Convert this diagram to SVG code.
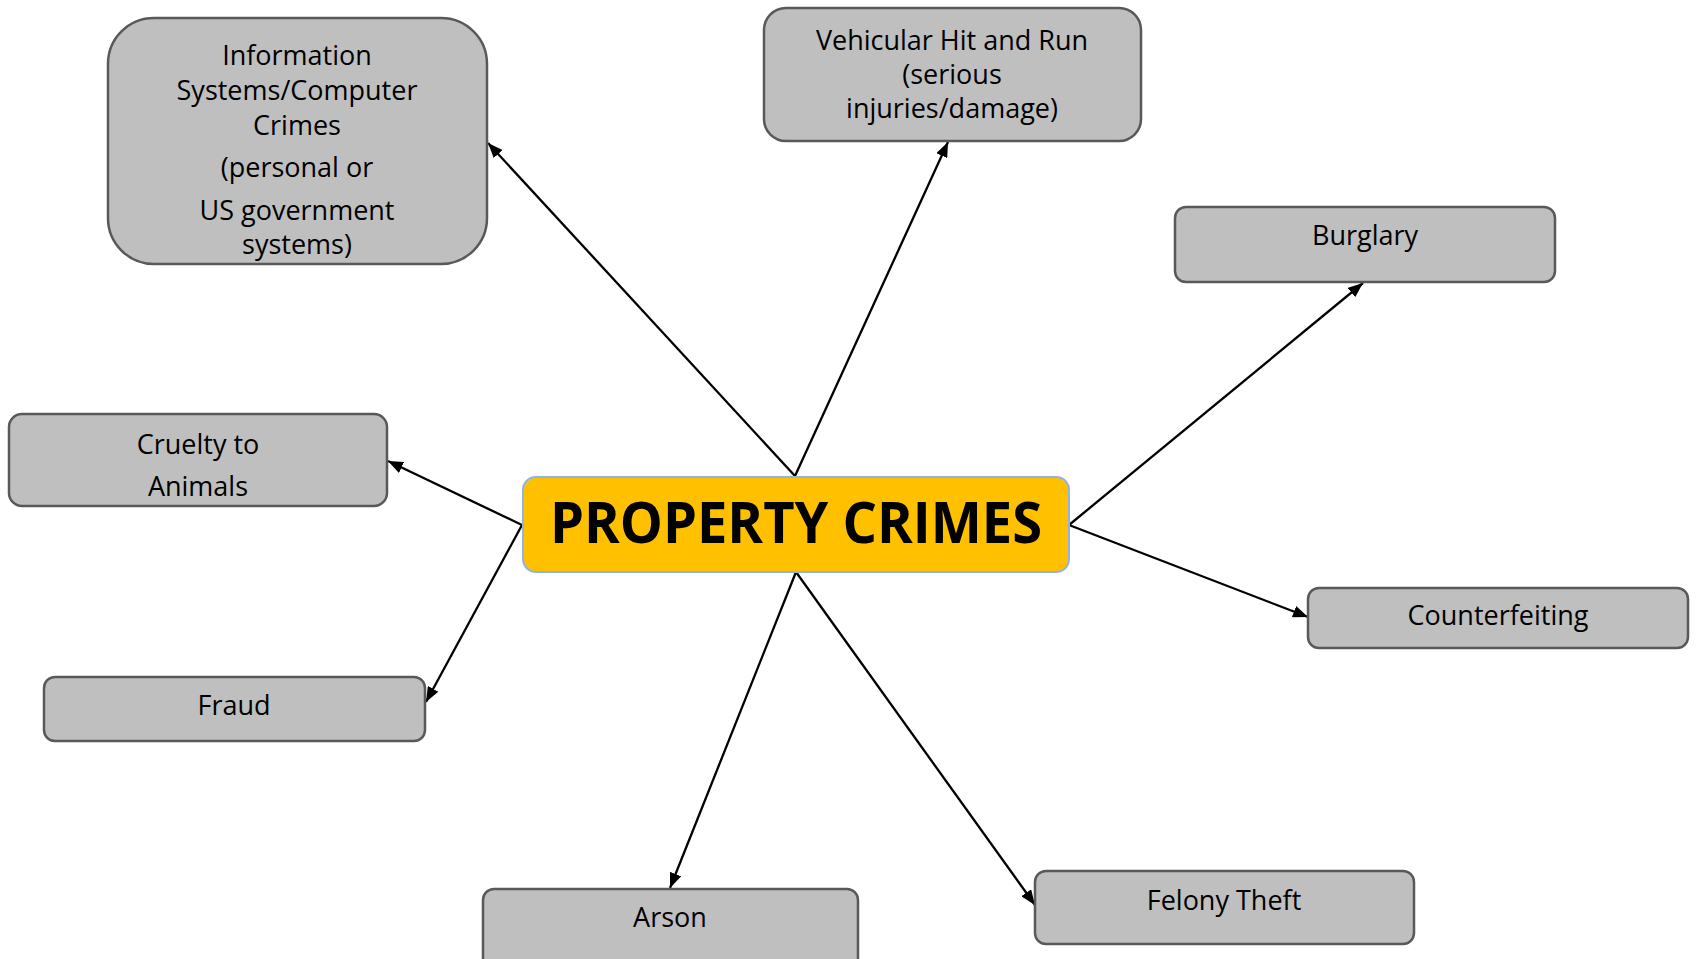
<svg xmlns="http://www.w3.org/2000/svg" width="1697" height="959" viewBox="0 0 1697 959">
<defs>
<marker id="arr" markerUnits="userSpaceOnUse" markerWidth="16" markerHeight="12" refX="15" refY="6" orient="auto">
<path d="M0,0 L15,6 L0,12 z" fill="#000"/>
</marker>
<style>
.box{fill:#BFBFBF;stroke:#595959;stroke-width:2.5}
.lbl{font-family:"Open Sans","Liberation Sans",sans-serif;font-size:27px;fill:#000;text-anchor:middle}
.con{stroke:#000;stroke-width:2.3;fill:none;marker-end:url(#arr)}
</style>
</defs>
<rect width="1697" height="959" fill="#fff"/>
<g id="connectors">
<line class="con" x1="795" y1="476" x2="488" y2="143"/>
<line class="con" x1="795" y1="476" x2="948" y2="142"/>
<line class="con" x1="1069" y1="525" x2="1363" y2="283"/>
<line class="con" x1="1069" y1="525" x2="1308" y2="617"/>
<line class="con" x1="522" y1="525" x2="388" y2="461"/>
<line class="con" x1="522" y1="525" x2="426" y2="702"/>
<line class="con" x1="796" y1="572" x2="670" y2="888"/>
<line class="con" x1="796" y1="572" x2="1035" y2="905"/>
</g>
<g id="center">
<rect x="523" y="477" width="546" height="95" rx="13" fill="#FFC000" stroke="#8EB4E3" stroke-width="2"/>
<text x="796" y="543" font-family="'Open Sans','Liberation Sans',sans-serif" font-weight="bold" font-size="57" text-anchor="middle" textLength="492" lengthAdjust="spacingAndGlyphs">PROPERTY CRIMES</text>
</g>
<g id="info">
<rect class="box" x="108" y="18" width="379" height="246" rx="46"/>
<text class="lbl" x="297" y="65">Information</text>
<text class="lbl" x="297" y="100">Systems/Computer</text>
<text class="lbl" x="297" y="135">Crimes</text>
<text class="lbl" x="297" y="177">(personal or</text>
<text class="lbl" x="297" y="220">US government</text>
<text class="lbl" x="297" y="254">systems)</text>
</g>
<g id="vehicular">
<rect class="box" x="764" y="8" width="377" height="133" rx="22"/>
<text class="lbl" x="952" y="50">Vehicular Hit and Run</text>
<text class="lbl" x="952" y="84">(serious</text>
<text class="lbl" x="952" y="118">injuries/damage)</text>
</g>
<g id="burglary">
<rect class="box" x="1175" y="207" width="380" height="75" rx="11"/>
<text class="lbl" x="1365" y="245">Burglary</text>
</g>
<g id="counterfeiting">
<rect class="box" x="1308" y="588" width="380" height="60" rx="11"/>
<text class="lbl" x="1498" y="625">Counterfeiting</text>
</g>
<g id="cruelty">
<rect class="box" x="9" y="414" width="378" height="92" rx="13"/>
<text class="lbl" x="198" y="454">Cruelty to</text>
<text class="lbl" x="198" y="496">Animals</text>
</g>
<g id="fraud">
<rect class="box" x="44" y="677" width="381" height="64" rx="11"/>
<text class="lbl" x="234" y="715">Fraud</text>
</g>
<g id="arson">
<rect class="box" x="483" y="889" width="375" height="85" rx="11"/>
<text class="lbl" x="670" y="927">Arson</text>
</g>
<g id="felony">
<rect class="box" x="1035" y="871" width="379" height="73" rx="11"/>
<text class="lbl" x="1224" y="910">Felony Theft</text>
</g>
</svg>
